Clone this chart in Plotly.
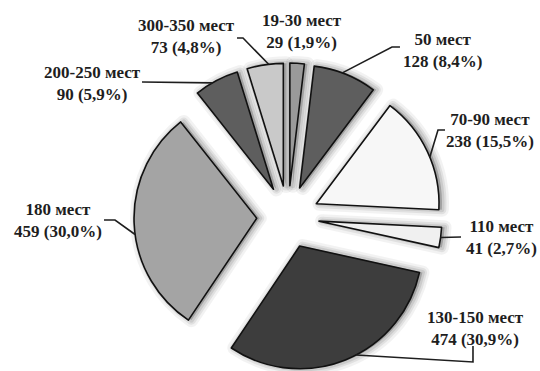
import math
import plotly.graph_objects as go

# Seat-count groups, counts and shares
labels = ["19-30 мест", "50 мест", "70-90 мест", "110 мест",
          "130-150 мест", "180 мест", "200-250 мест", "300-350 мест"]
counts = [29, 128, 238, 41, 474, 459, 90, 73]
shares = ["1,9%", "8,4%", "15,5%", "2,7%", "30,9%", "30,0%", "5,9%", "4,8%"]
colors = ["#9a9a9a", "#5e5e5e", "#f7f7f7", "#f0f0f0",
          "#3d3d3d", "#a4a4a4", "#5e5e5e", "#c9c9c9"]

# Label placement: text centre (px) and leader line
# (fraction along the slice's arc where the line starts, then bend points in px)
label_pos = [(302, 32), (442, 50), (490, 130), (501, 237),
             (475, 328), (58, 221), (92, 84), (186, 36)]
leaders = [
    None,
    (0.45, [(392, 47), (400, 47)]),
    (0.55, [(438, 130), (445, 130)]),
    (0.5, [(461, 237)]),
    (0.45, [(473, 362), (473, 346)]),
    (0.45, [(115, 220), (104, 220)]),
    (0.4, [(142, 82)]),
    (0.6, [(243, 38), (237, 38)]),
]

W, H = 540, 371
PULL = 0.255
CX, CY = 288, 217            # pie centre in px from the top-left corner
HALF = H - CY                # half size of the pie box
R = HALF / (1 + PULL)        # slice radius as plotly computes it
FONT = "Liberation Serif, Times New Roman, serif"


def pie_domain(shift_x=0):
    return dict(x=[(CX + shift_x - HALF) / W, (CX + shift_x + HALF) / W],
                y=[0, 2 * HALF / H])


fig = go.Figure()

# soft shadow: the same exploded pie drawn behind, slightly to the right,
# with wide translucent outlines
for width, alpha in [(14, 0.05), (9, 0.07), (5, 0.09)]:
    fig.add_trace(go.Pie(
        labels=labels, values=counts, sort=False,
        direction="clockwise", rotation=0,
        pull=[PULL] * len(counts),
        marker=dict(colors=[f"rgba(0,0,0,{alpha})"] * len(counts),
                    line=dict(color=f"rgba(0,0,0,{alpha})", width=width)),
        textinfo="none", hoverinfo="skip", showlegend=False,
        domain=pie_domain(3),
    ))

fig.add_trace(go.Pie(
    labels=labels,
    values=counts,
    sort=False,
    direction="clockwise",
    rotation=0,
    pull=[PULL] * len(counts),
    marker=dict(colors=colors, line=dict(color="#111111", width=1.6)),
    textinfo="none",
    hoverinfo="label+value+percent",
    showlegend=False,
    domain=pie_domain(),
))


def to_paper(px, py):
    return px / W, 1 - py / H


total = sum(counts)
start = 0.0
shapes, annotations = [], []
for i, (lab, n, sh) in enumerate(zip(labels, counts, shares)):
    span = n / total * 360.0
    mid = math.radians(start + span / 2)
    ox = CX + PULL * R * math.sin(mid)
    oy = CY - PULL * R * math.cos(mid)
    lx, ly = label_pos[i]
    annotations.append(dict(
        x=lx / W, y=1 - ly / H, xref="paper", yref="paper",
        text=f"<b>{lab}<br>{n} ({sh})</b>", showarrow=False,
        font=dict(family=FONT, size=17, color="#1e1e1e"),
        align="center", xanchor="center", yanchor="middle",
    ))
    if leaders[i] is not None:
        frac, pts = leaders[i]
        a = math.radians(start + span * frac)
        ax = ox + R * math.sin(a)
        ay = oy - R * math.cos(a)
        path_pts = [(ax, ay)] + pts
        path = "M " + " L ".join(
            f"{to_paper(px, py)[0]:.4f},{to_paper(px, py)[1]:.4f}" for px, py in path_pts)
        shapes.append(dict(type="path", path=path, xref="paper", yref="paper",
                           line=dict(color="#1e1e1e", width=1.6)))
    start += span

fig.update_layout(
    width=W, height=H,
    margin=dict(l=0, r=0, t=0, b=0),
    paper_bgcolor="white",
    plot_bgcolor="white",
    font=dict(family=FONT),
    shapes=shapes,
    annotations=annotations,
)

fig.write_html("out.html")
